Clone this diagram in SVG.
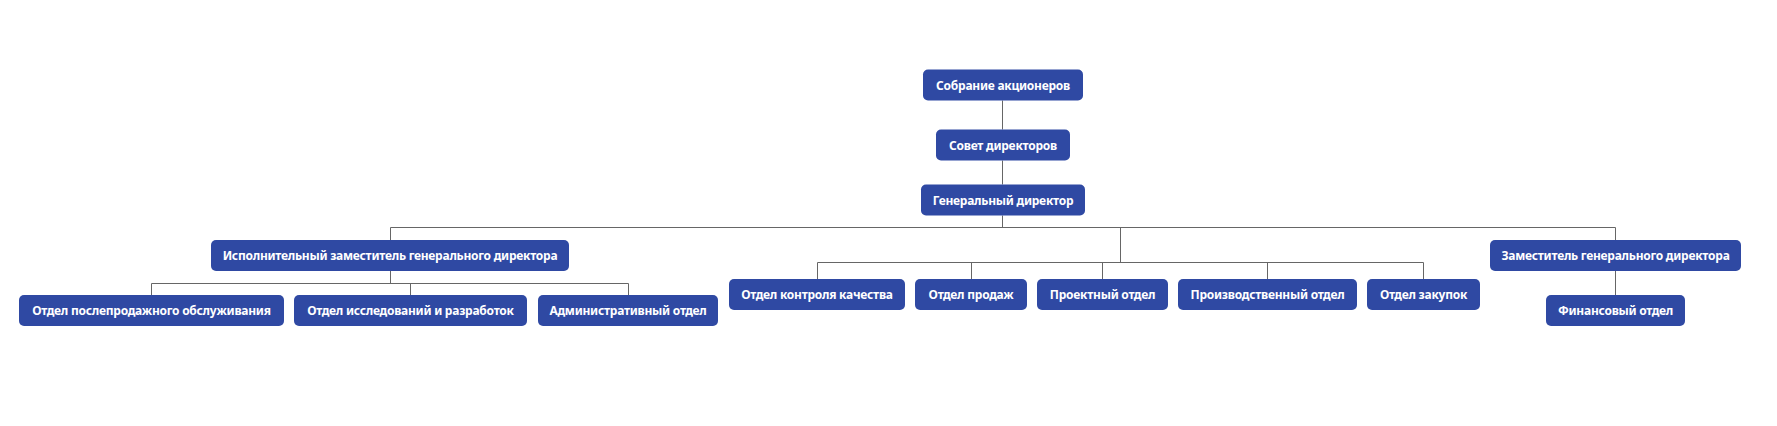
<svg xmlns="http://www.w3.org/2000/svg" width="1777" height="426" viewBox="0 0 1777 426">
<style>
.n rect{fill:#2f49a3;rx:5px;ry:5px}
.n text{fill:#fff;font-family:"Noto Sans","Open Sans","DejaVu Sans",sans-serif;font-weight:bold;font-size:12px;letter-spacing:-0.25px;text-anchor:middle;dominant-baseline:central}
.c path{fill:none;stroke:#666;stroke-width:1}
</style>
<rect width="1777" height="426" fill="#fff"/>
<g class="c" id="connectors">
<path d="M1002.5 100.5V129.5M1002.5 160.5V184.5M1002.5 215.5V227.5"/>
<path d="M390.5 240V227.5H1615.5V240"/>
<path d="M1120.5 227.5V262.5"/>
<path d="M390.5 271V283.5M151.5 295V283.5H628.5V295M410.5 283.5V295"/>
<path d="M817.5 279V262.5H1423.5V279M971.5 262.5V279M1102.5 262.5V279M1267.5 262.5V279"/>
<path d="M1615.5 271V295"/>
</g>
<g class="n" id="n1"><rect x="923" y="69.5" width="160" height="31"/><text x="1003" y="85">Собрание акционеров</text></g>
<g class="n" id="n2"><rect x="936" y="129.5" width="134" height="31"/><text x="1003" y="145">Совет директоров</text></g>
<g class="n" id="n3"><rect x="921" y="184.5" width="164" height="31"/><text x="1003" y="200">Генеральный директор</text></g>
<g class="n" id="n4"><rect x="211" y="240" width="358" height="31"/><text x="390" y="255.5">Исполнительный заместитель генерального директора</text></g>
<g class="n" id="n5"><rect x="1490" y="240" width="251" height="31"/><text x="1615.5" y="255.5">Заместитель генерального директора</text></g>
<g class="n" id="n6"><rect x="19" y="295" width="265" height="31"/><text x="151.5" y="310.5">Отдел послепродажного обслуживания</text></g>
<g class="n" id="n7"><rect x="294" y="295" width="233" height="31"/><text x="410.5" y="310.5">Отдел исследований и разработок</text></g>
<g class="n" id="n8"><rect x="538" y="295" width="180" height="31"/><text x="628" y="310.5">Административный отдел</text></g>
<g class="n" id="n9"><rect x="729" y="279" width="176" height="31"/><text x="817" y="294.5">Отдел контроля качества</text></g>
<g class="n" id="n10"><rect x="915" y="279" width="112" height="31"/><text x="971" y="294.5">Отдел продаж</text></g>
<g class="n" id="n11"><rect x="1037" y="279" width="131" height="31"/><text x="1102.5" y="294.5">Проектный отдел</text></g>
<g class="n" id="n12"><rect x="1178" y="279" width="179" height="31"/><text x="1267.5" y="294.5">Производственный отдел</text></g>
<g class="n" id="n13"><rect x="1367" y="279" width="113" height="31"/><text x="1423.5" y="294.5">Отдел закупок</text></g>
<g class="n" id="n14"><rect x="1546" y="295" width="139" height="31"/><text x="1615.5" y="310.5">Финансовый отдел</text></g>
</svg>
